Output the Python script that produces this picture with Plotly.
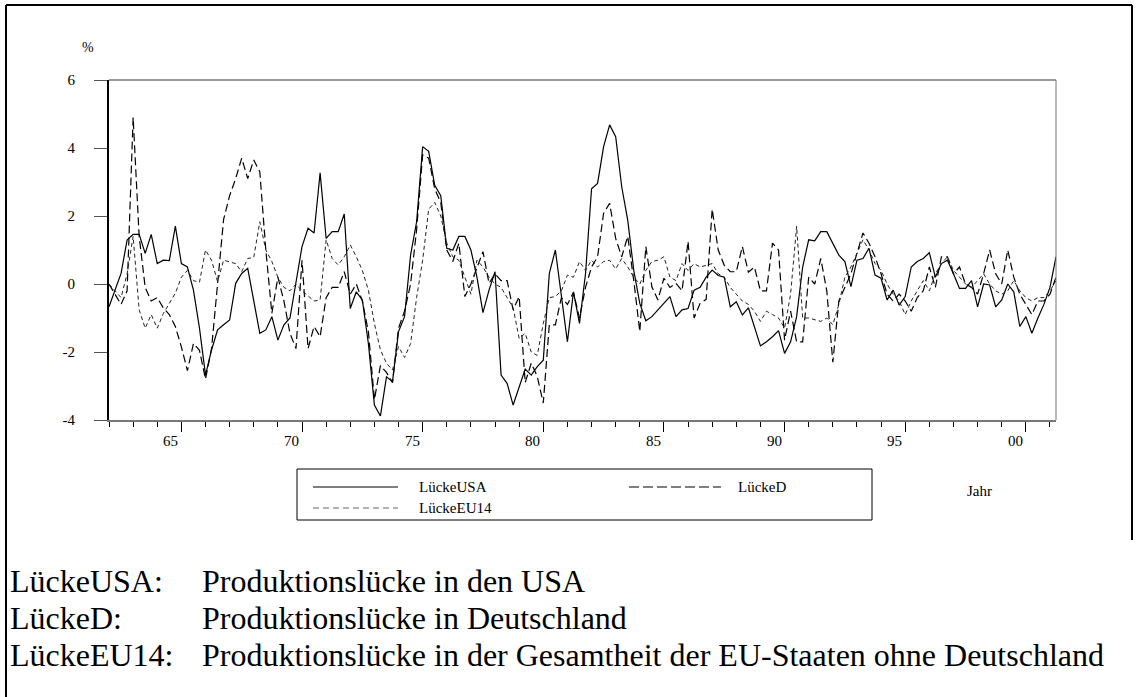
import plotly.graph_objects as go

# ---------------- data (quarterly, 1962Q1 - 2001Q2) ----------------
start_year = 1962
luecke_usa = [
    -0.67, -0.18, 0.31, 1.29,   1.46, 1.46, 0.90, 1.46,   0.60, 0.70, 0.69, 1.70,
    0.60, 0.50, -0.18, -1.30,   -2.68, -1.94, -1.35, -1.20,   -1.06, 0.02, 0.31, 0.46,
    -0.50, -1.45, -1.35, -0.96,   -1.65, -1.20, -1.00, 0.10,   1.10, 1.64, 1.50, 3.27,
    1.34, 1.54, 1.54, 2.06,   -0.72, -0.23, -0.47, -1.75,   -3.56, -3.88, -2.73, -2.87,
    -1.40, -0.96, 0.85, 1.83,   4.04, 3.90, 2.90, 2.60,   1.05, 1.00, 1.40, 1.40,
    1.00, 0.20, -0.84, -0.18,   0.36, -2.68, -2.92, -3.56,   -3.00, -2.50, -2.68, -2.43,
    -2.24, 0.31, 1.00, -0.37,   -1.70, -0.23, -1.16, 0.30,   2.80, 2.96, 4.04, 4.68,
    4.33, 2.86, 1.88, 0.40,   -0.57, -1.08, -0.96, -0.76,   -0.57, -0.37, -0.96, -0.76,
    -0.72, -0.18, -0.10, 0.20,   0.41, 0.25, 0.20, -0.67,   -0.52, -0.91, -0.70, -1.25,
    -1.82, -1.70, -1.55, -1.37,   -2.04, -1.70, -0.96, 0.50,   1.30, 1.27, 1.54, 1.54,
    1.20, 0.85, 0.66, -0.08,   0.70, 0.75, 1.05, 0.26,   0.17, -0.47, -0.18, -0.62,
    -0.37, 0.50, 0.66, 0.75,   0.92, 0.20, 0.60, 0.70,   0.30, -0.13, -0.13, 0.10,
    -0.67, 0.00, -0.03, -0.67,   -0.47, 0.00, -0.23, -1.25,   -0.96, -1.45, -1.00, -0.60,
    -0.10, 0.80,
]
luecke_d = [
    0.00, -0.30, -0.60, -0.20,   4.90, 1.40, -0.10, -0.50,   -0.40, -0.70, -0.90, -1.25,
    -1.85, -2.55, -1.75, -1.95,   -2.80, -1.90, 0.00, 1.90,   2.60, 3.10, 3.70, 3.10,
    3.65, 3.30, 1.00, -0.86,   0.20, -0.50, -1.45, -1.90,   0.70, -1.90, -1.25, -1.55,
    -0.40, -0.10, -0.10, 0.36,   -0.30, 0.00, -0.50, -1.40,   -3.40, -2.40, -2.60, -2.90,
    -1.30, -0.80, 0.00, 1.60,   3.80, 3.70, 2.80, 2.40,   1.00, 0.66, 1.20, -0.37,
    0.00, 0.50, 0.95, 0.02,   0.30, 0.10, 0.10, -0.76,   -0.37, -2.90, -2.33, -2.72,
    -3.50, -1.20, -1.20, -0.40,   -0.60, -0.25, -1.00, -0.10,   0.50, 0.80, 2.08, 2.37,
    1.34, 0.80, 1.40, 0.10,   -1.40, 1.10, -0.08, -0.47,   0.17, -0.10, 0.02, -0.20,
    1.25, -1.00, -0.57, -0.45,   2.20, 1.00, 0.55, 0.36,   0.36, 1.10, 0.35, 0.50,
    -0.20, -0.20, 1.20, 1.00,   -1.65, -0.80, -1.70, -1.70,   0.20, 0.00, 0.75, -0.20,
    -2.30, -0.50, -0.10, 0.30,   0.90, 1.50, 1.20, 0.80,   0.30, -0.30, -0.50, -0.30,
    -0.50, -0.80, -0.40, -0.20,   0.50, -0.10, 0.80, 0.80,   0.30, 0.50, 0.00, -0.10,
    -0.30, 0.30, 1.00, 0.30,   0.00, 1.00, 0.20, -0.30,   -0.60, -0.90, -0.50, -0.50,
    -0.30, 0.20,
]
luecke_eu14 = [
    0.00, -0.20, -0.40, 0.30,   1.40, -0.76, -1.30, -0.90,   -1.30, -0.87, -0.57, -0.27,
    0.20, 0.40, 0.10, 0.05,   1.00, 0.70, 0.07, 0.70,   0.65, 0.60, 0.36, 0.75,
    0.78, 1.83, 1.00, 0.66,   0.20, -0.10, -0.20, 0.00,   -0.20, -0.35, -0.50, -0.47,
    1.30, 0.75, 0.56, 0.80,   1.15, 0.80, 0.40, -0.18,   -1.16, -1.94, -2.33, -2.53,
    -1.84, -2.16, -1.75, -0.40,   0.70, 2.20, 2.40, 2.00,   1.20, 0.80, 0.70, 0.20,
    -0.30, 0.70, 0.50, 0.20,   0.00, -0.10, -0.40, -0.70,   -1.60, -1.45, -2.00, -2.10,
    -1.16, -0.40, -0.37, -0.20,   0.26, 0.20, 0.66, 0.40,   0.70, 0.50, 0.66, 0.70,
    0.44, 0.75, 0.50, 0.20,   0.00, 0.40, 0.66, 0.70,   0.80, 0.20, 0.10, 0.60,
    0.40, 0.60, 0.50, 0.56,   0.60, 0.30, 0.20, -0.10,   -0.30, -0.50, -0.60, -0.80,
    -1.10, -0.80, -0.90, -1.00,   -1.30, -0.30, 1.70, -1.00,   -1.00, -1.05, -1.10, -1.00,
    -1.20, -0.60, 0.20, 0.50,   0.90, 1.30, 1.00, 0.60,   0.40, 0.00, -0.30, -0.50,
    -0.90, -0.50, -0.20, 0.10,   -0.20, 0.30, 0.60, 0.80,   0.40, 0.20, 0.00, -0.10,
    0.10, 0.30, 0.00, -0.20,   -0.30, -0.20, 0.10, -0.20,   -0.40, -0.50, -0.40, -0.40,
    -0.20, 0.10,
]
quarters = [start_year + i / 4 for i in range(len(luecke_usa))]

major_years = [1965, 1970, 1975, 1980, 1985, 1990, 1995, 2000]
major_labels = ["65", "70", "75", "80", "85", "90", "95", "00"]
y_ticks = [-4, -2, 0, 2, 4, 6]
y_labels = ["-4", "-2", "0", "2", "4", "6"]

legend_names = ["LückeUSA", "LückeD", "LückeEU14"]
notes = [
    ("LückeUSA:", "Produktionslücke in den USA"),
    ("LückeD:", "Produktionslücke in Deutschland"),
    ("LückeEU14:", "Produktionslücke in der Gesamtheit der EU-Staaten ohne Deutschland"),
]

# ---------------- layout geometry (pixels) ----------------
W, H = 1137, 697
L, R, T, B = 109, 1056, 80, 420
FONT = "Liberation Serif"


def px(x):
    return (x - L) / (R - L)


def py(y):
    return (B - y) / (B - T)


fig = go.Figure()
fig.add_trace(go.Scatter(x=quarters, y=luecke_usa, mode="lines", name=legend_names[0],
                         line=dict(color="black", width=1.2)))
fig.add_trace(go.Scatter(x=quarters, y=luecke_d, mode="lines", name=legend_names[1],
                         line=dict(color="black", width=1.2, dash="8px,4px")))
fig.add_trace(go.Scatter(x=quarters, y=luecke_eu14, mode="lines", name=legend_names[2],
                         line=dict(color="#222", width=1.0, dash="4px,3px")))

shapes = []
annotations = []

# plot frame (top + right thin grey)
shapes.append(dict(type="line", xref="paper", yref="paper", x0=0, x1=1, y0=1, y1=1,
                   line=dict(color="#777", width=1.5)))
shapes.append(dict(type="line", xref="paper", yref="paper", x0=1, x1=1, y0=0, y1=1,
                   line=dict(color="#777", width=1)))

# outer border
shapes.append(dict(type="line", xref="paper", yref="paper", x0=px(6), x1=px(6), y0=py(5), y1=py(700),
                   line=dict(color="black", width=2)))
shapes.append(dict(type="line", xref="paper", yref="paper", x0=px(6), x1=px(1132), y0=py(5), y1=py(5),
                   line=dict(color="black", width=2)))
shapes.append(dict(type="line", xref="paper", yref="paper", x0=px(1132), x1=px(1132), y0=py(5), y1=py(540),
                   line=dict(color="black", width=2)))

# x tick labels (right-aligned to major ticks)
for yr, lab in zip(major_years, major_labels):
    annotations.append(dict(x=yr, xref="x", y=py(441), yref="paper", text=lab, showarrow=False,
                            xanchor="right", yanchor="middle", xshift=-1,
                            font=dict(family=FONT, size=15, color="black")))

# percent sign
annotations.append(dict(x=px(88), y=py(48), xref="paper", yref="paper", text="%", showarrow=False,
                        xanchor="center", yanchor="middle", font=dict(family=FONT, size=14, color="black")))

# legend box
shapes.append(dict(type="rect", xref="paper", yref="paper", x0=px(297), x1=px(872), y0=py(469), y1=py(520),
                   line=dict(color="black", width=1)))
legend_rows = [
    (313, 398, 487, dict(color="black", width=1), legend_names[0], 417),
    (629, 721, 487, dict(color="black", width=1, dash="10px,4px"), legend_names[1], 736),
    (313, 398, 508, dict(color="#999", width=1.5, dash="6px,4px"), legend_names[2], 417),
]
for x0, x1, yy, ln, name, tx in legend_rows:
    shapes.append(dict(type="line", xref="paper", yref="paper", x0=px(x0), x1=px(x1), y0=py(yy), y1=py(yy),
                       line=ln))
    annotations.append(dict(x=px(tx), y=py(yy), xref="paper", yref="paper", text=name, showarrow=False,
                            xanchor="left", yanchor="middle", font=dict(family=FONT, size=15, color="black")))

annotations.append(dict(x=px(965), y=py(491), xref="paper", yref="paper", text="Jahr", showarrow=False,
                        xanchor="left", yanchor="middle", font=dict(family=FONT, size=15, color="black")))

# notes below the chart
for i, (k, v) in enumerate(notes):
    yy = 581 + i * 37
    annotations.append(dict(x=px(8), y=py(yy), xref="paper", yref="paper", text=k, showarrow=False,
                            xanchor="left", yanchor="middle", font=dict(family=FONT, size=32, color="black")))
    annotations.append(dict(x=px(200), y=py(yy), xref="paper", yref="paper", text=v, showarrow=False,
                            xanchor="left", yanchor="middle", font=dict(family=FONT, size=32, color="black")))

fig.update_layout(
    width=W, height=H,
    margin=dict(l=L, r=W - R, t=T, b=H - B),
    paper_bgcolor="white", plot_bgcolor="white",
    showlegend=False,
    shapes=shapes, annotations=annotations,
    xaxis=dict(range=[start_year, quarters[-1]], tickvals=major_years, ticks="outside", ticklen=10,
               tickcolor="black", tickwidth=1, showticklabels=False,
               minor=dict(tickvals=list(range(start_year, 2002)), ticks="outside", ticklen=5,
                          tickcolor="black", tickwidth=1),
               showline=True, linecolor="#777", linewidth=1.5, showgrid=False, zeroline=False),
    yaxis=dict(range=[-4, 6], tickvals=y_ticks, ticktext=y_labels, ticks="outside", ticklen=13,
               tickcolor="#555", tickwidth=1, ticklabelstandoff=16,
               tickfont=dict(family=FONT, size=15, color="black"),
               showline=True, linecolor="black", linewidth=2, showgrid=False, zeroline=False),
)

fig.write_html("out.html", config={"displayModeBar": False},
               post_script="document.body.style.margin='0px';")
